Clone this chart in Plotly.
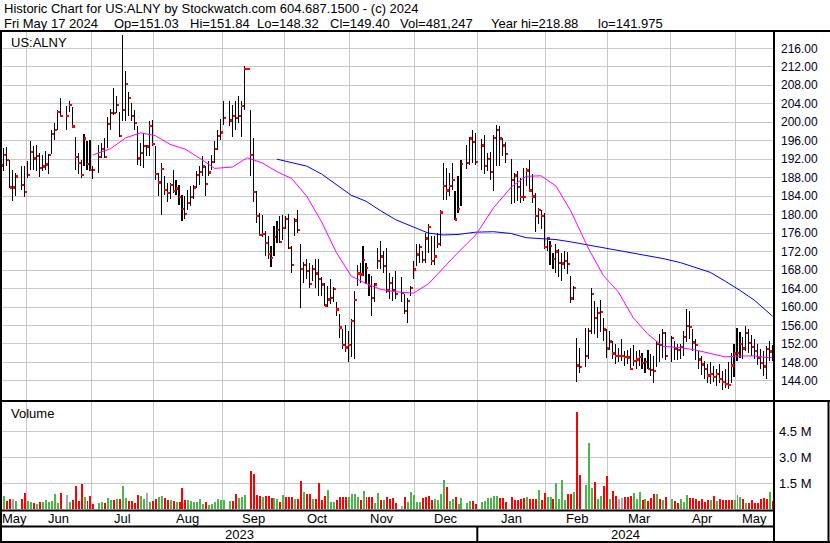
import numpy as np
import pandas as pd
import plotly.graph_objects as go

FONT = "Liberation Sans, Arial, Helvetica, sans-serif"

# ---------------- DATA ----------------
market_holidays = ["2023-05-29", "2023-06-19", "2023-07-04", "2023-09-04", "2023-11-23",
                   "2023-12-25", "2024-01-01", "2024-01-15", "2024-02-19", "2024-03-29"]
first_day, last_day = "2023-05-19", "2024-05-17"

high = [
    # May 2023
    193.7, 194.4, 194.6, 191.9, 189.7, 189.0, 190.6, 190.6,
    # Jun
    191.5, 196.0, 194.8, 195.1, 193.3, 192.8, 193.7, 193.2, 198.4, 199.8, 202.7, 205.2,
    203.6, 204.6, 203.4, 196.8, 193.3, 191.9, 197.4, 196.0, 196.2,
    # Jul
    190.5, 195.1, 195.5, 196.6, 201.1, 202.8, 207.4, 205.6, 202.3, 218.88, 211.0, 206.6,
    204.1, 202.7, 199.1, 195.5, 197.7, 195.1, 200.2, 200.4,
    # Aug
    194.8, 189.0, 191.2, 188.3, 186.9, 186.9, 189.7, 187.6, 186.5, 184.3, 184.0, 185.4,
    186.1, 186.5, 189.4, 190.5, 192.6, 190.5, 191.5, 192.8, 195.9, 198.4, 200.7,
    # Sep
    204.6, 204.6, 203.8, 204.6, 205.7, 204.7, 212.2, 211.8, 202.7, 196.6, 185.1, 180.4,
    180.0, 176.4, 175.4, 173.2, 177.5, 178.6, 179.7, 180.0,
    # Oct
    179.7, 180.2, 173.2, 179.3, 181.1, 173.6, 169.7, 170.3, 169.6, 169.2, 170.3, 170.3,
    166.4, 165.3, 164.6, 166.0, 164.3, 161.0, 158.4, 155.2, 156.1, 154.8,
    # Nov
    157.3, 163.5, 169.2, 169.6, 173.2, 169.6, 167.1, 166.7, 165.3, 172.8, 174.3, 172.1,
    172.8, 167.4, 166.4, 167.8, 166.4, 162.8, 162.0, 164.6, 170.0,
    # Dec
    173.6, 173.6, 172.1, 176.1, 177.9, 175.4, 175.4, 176.1, 181.1, 191.2, 190.1, 189.0,
    191.2, 185.1, 188.3, 191.9, 195.0, 196.8, 198.3, 197.6,
    # Jan 2024
    196.3, 197.3, 193.4, 193.5, 197.3, 199.5, 199.1, 196.6, 195.7, 192.1, 189.0, 189.4,
    188.0, 190.1, 190.1, 191.9, 188.7, 184.7, 181.5, 181.1, 180.4,
    # Feb
    175.0, 174.3, 171.8, 173.6, 172.5, 171.8, 172.1, 171.9, 166.7, 164.6, 153.4, 151.1,
    155.5, 155.5, 164.2, 161.3, 159.9, 161.5, 157.7, 155.2,
    # Mar
    154.8, 152.6, 151.9, 151.2, 153.0, 150.5, 150.8, 151.2, 151.7, 150.5, 150.8, 150.1,
    149.0, 150.8, 149.8, 149.4, 152.6, 154.1, 155.2, 154.5,
    # Apr
    153.7, 152.6, 151.9, 151.9, 154.8, 159.5, 159.2, 155.2, 153.0, 150.5, 149.4, 148.3,
    147.6, 148.0, 147.2, 146.5, 147.6, 146.1, 146.5, 148.0, 150.1, 151.9,
    # May 2024
    155.5, 154.5, 153.5, 155.8, 155.2, 154.0, 153.0, 152.0, 151.0, 150.5, 151.6, 152.6, 151.84,
]

low = [
    189.6, 189.4, 190.6, 185.8, 182.9, 184.0, 185.4, 183.8,
    188.0, 189.7, 189.7, 189.4, 188.1, 189.4, 189.7, 188.7, 193.2, 196.1, 198.4, 201.1,
    198.4, 202.3, 198.9, 189.7, 188.7, 187.9, 190.5, 189.7, 189.4,
    187.7, 189.0, 192.3, 192.3, 194.4, 198.4, 201.6, 202.0, 196.9, 200.2, 200.2, 201.3,
    200.2, 198.4, 190.8, 190.5, 190.1, 192.6, 192.6, 194.8,
    187.6, 184.0, 180.0, 184.3, 182.7, 183.3, 184.7, 184.3, 182.0, 178.6, 179.0, 181.1,
    181.8, 183.3, 185.8, 186.5, 188.3, 184.0, 188.3, 189.7, 191.2, 194.0, 196.2,
    199.5, 199.1, 196.9, 198.4, 199.8, 196.8, 202.7, 211.4, 188.4, 182.7, 178.2, 175.5,
    175.2, 171.0, 170.3, 168.7, 171.0, 173.9, 173.9, 174.6,
    176.8, 172.5, 167.4, 175.4, 176.1, 159.7, 165.3, 166.0, 164.2, 165.6, 164.2, 162.4,
    162.4, 160.2, 159.9, 160.6, 161.0, 158.1, 153.4, 150.9, 150.2, 148.2,
    149.1, 148.7, 164.6, 165.3, 166.7, 165.0, 162.4, 158.0, 161.0, 168.2, 168.2, 167.4,
    163.1, 161.7, 161.3, 161.7, 161.0, 158.4, 156.6, 162.4, 166.0,
    168.9, 169.6, 169.6, 169.6, 171.8, 169.2, 169.2, 172.8, 173.2, 183.1, 183.1, 184.0,
    185.4, 178.8, 180.4, 181.8, 189.8, 190.8, 191.2, 190.8,
    189.6, 188.7, 189.4, 187.6, 185.1, 190.5, 190.5, 192.7, 191.2, 182.2, 182.6, 182.9,
    182.6, 182.9, 186.2, 185.1, 182.6, 176.2, 177.9, 176.8, 172.5,
    172.1, 169.2, 168.2, 167.4, 166.4, 165.6, 168.2, 167.1, 160.9, 161.5, 143.7, 145.8,
    147.0, 148.8, 154.1, 154.1, 153.4, 154.5, 152.6, 149.0,
    150.8, 148.7, 147.6, 148.0, 148.3, 147.2, 147.6, 146.5, 147.2, 146.5, 147.2, 146.5,
    145.8, 146.5, 145.1, 143.6, 147.0, 148.0, 149.0, 148.5,
    148.0, 148.5, 148.5, 148.8, 149.5, 152.5, 153.0, 150.5, 148.5, 146.5, 145.3, 144.5,
    143.5, 143.3, 143.8, 143.0, 143.5, 141.975, 142.5, 142.3, 143.5, 144.8,
    148.3, 149.0, 148.8, 150.5, 150.0, 149.5, 148.8, 147.5, 146.6, 145.0, 144.5, 148.3, 148.32,
]

close = [
    190.7, 193.0, 191.8, 185.9, 185.9, 188.3, 186.4, 185.0,
    188.7, 193.6, 192.2, 192.8, 190.2, 190.5, 190.9, 193.0, 197.5, 198.4, 202.3, 201.4,
    201.4, 203.8, 199.1, 192.6, 191.3, 188.7, 196.5, 191.0, 189.7,
    189.7, 192.6, 194.3, 192.6, 199.7, 202.1, 202.0, 203.8, 197.1, 202.7, 208.3, 205.3,
    201.4, 199.9, 192.2, 193.4, 194.9, 194.8, 199.2, 195.4,
    188.9, 187.0, 190.0, 185.4, 184.7, 186.4, 185.1, 185.7, 183.8, 181.3, 180.2, 182.5,
    183.8, 185.9, 188.7, 189.3, 190.5, 186.7, 189.2, 191.5, 194.3, 197.1, 197.8,
    201.0, 200.4, 201.4, 201.0, 201.4, 203.6, 211.5, 211.6, 193.0, 185.0, 179.7, 175.6,
    175.8, 173.9, 171.6, 170.7, 175.2, 176.8, 174.1, 177.1,
    179.1, 172.9, 169.1, 178.8, 176.8, 168.3, 169.1, 167.8, 165.1, 168.3, 167.3, 166.1,
    164.9, 160.4, 161.7, 162.0, 164.0, 159.5, 155.6, 151.9, 151.3, 151.9,
    157.0, 161.5, 167.3, 167.1, 170.2, 168.5, 164.6, 162.0, 164.9, 170.0, 171.0, 168.9,
    163.6, 165.3, 163.8, 162.9, 163.1, 159.2, 161.3, 164.1, 168.2,
    171.4, 173.0, 170.3, 174.9, 177.3, 170.0, 171.0, 173.7, 180.5, 186.3, 185.3, 186.2,
    187.5, 179.0, 181.3, 191.0, 191.2, 196.5, 195.7, 191.4,
    195.0, 190.6, 192.1, 189.3, 196.7, 198.3, 196.5, 195.0, 193.2, 187.5, 188.5, 186.0,
    183.9, 183.9, 189.6, 185.3, 184.0, 179.7, 181.1, 179.8, 173.0,
    174.9, 173.2, 170.5, 172.1, 169.6, 169.5, 170.0, 169.4, 161.9, 164.1, 147.4, 147.0,
    149.5, 154.8, 162.9, 157.6, 158.8, 158.9, 155.2, 151.1,
    152.6, 150.0, 149.5, 149.5, 149.5, 149.3, 149.1, 146.6, 148.4, 148.7, 149.2, 147.9,
    148.1, 146.6, 146.4, 146.2, 152.1, 151.9, 154.5, 149.4,
    153.3, 151.1, 150.8, 151.4, 153.5, 156.0, 155.8, 152.4, 151.9, 148.7, 147.6, 146.7,
    145.2, 145.6, 144.9, 145.5, 144.4, 143.8, 143.4, 143.2, 147.4, 150.0,
    150.1, 152.1, 151.1, 154.5, 152.2, 151.4, 150.6, 149.0, 147.9, 147.2, 150.9, 150.4, 149.40,
]

volume = [
    350000, 778000, 506000, 603000, 603000, 506000, 603000, 934000,
    486000, 428000, 350000, 311000, 428000, 428000, 545000, 428000, 506000, 895000, 370000, 934000,
    817000, 428000, 545000, 1360000, 486000, 1480000, 720000, 506000, 778000,
    311000, 370000, 428000, 370000, 642000, 564000, 545000, 603000, 603000, 1360000, 661000, 486000,
    486000, 370000, 837000, 778000, 603000, 953000, 428000, 506000,
    603000, 700000, 759000, 661000, 545000, 545000, 486000, 428000, 428000, 1250000, 545000, 545000,
    486000, 428000, 428000, 603000, 311000, 428000, 253000, 311000, 428000, 603000, 545000,
    545000, 486000, 486000, 895000, 661000, 720000, 837000, 0, 2240000, 2060000, 837000, 778000,
    720000, 778000, 778000, 661000, 661000, 603000, 428000, 837000,
    720000, 720000, 720000, 603000, 603000, 1650000, 1010000, 895000, 895000, 603000, 603000, 1540000,
    545000, 778000, 1130000, 428000, 428000, 545000, 720000, 720000, 720000, 720000,
    895000, 895000, 720000, 545000, 1070000, 720000, 720000, 720000, 370000, 953000, 545000, 545000,
    720000, 603000, 661000, 370000, 195000, 720000, 428000, 1010000, 837000,
    428000, 428000, 661000, 700000, 778000, 545000, 603000, 545000, 895000, 1710000, 1280000, 486000,
    603000, 720000, 311000, 661000, 370000, 486000, 486000, 311000,
    428000, 486000, 661000, 661000, 778000, 778000, 661000, 661000, 428000, 720000, 545000, 545000,
    603000, 661000, 720000, 603000, 603000, 603000, 1130000, 545000, 953000,
    720000, 720000, 603000, 1540000, 600000, 1710000, 545000, 895000, 895000, 1010000, 5680000, 2000000,
    1420000, 3870000, 1250000, 1600000, 603000, 778000, 1360000, 1950000,
    603000, 1070000, 778000, 603000, 661000, 720000, 720000, 778000, 953000, 603000, 1010000, 545000,
    603000, 486000, 661000, 895000, 895000, 603000, 545000, 700000,
    603000, 486000, 370000, 603000, 428000, 837000, 661000, 661000, 603000, 486000, 603000, 428000,
    545000, 545000, 778000, 486000, 603000, 545000, 545000, 545000, 545000, 545000,
    837000, 720000, 603000, 370000, 370000, 545000, 370000, 370000, 603000, 661000, 603000, 1010000, 481247,
]

# volume bar colour class, month by month: u = up, d = down, n = unchanged
vol_dir_by_month = [
    "nuddnudd",                      # May 2023
    "uududuuuuuud" "nuddddudd",      # Jun
    "duuduududuudddduunud",          # Jul
    "duuddududdduuuuuuduuuuu",       # Aug
    "uudduuuddddduddduudu",          # Sep
    "dddudd" "udd" "udddd" "uuu" "dddd" "u",   # Oct
    "uuud" "uddd" "uudu" "dddd" "nduuu",       # Nov
    "uudddd" "uuuu" "duu" "duu" "uudd",        # Dec
    "uuuuuu" "ddd" "ddddd" "u" "ddd" "u" "dd", # Jan 2024
    "uud" "uuuu" "ddu" "dd" "uuu" "duu" "dd",  # Feb
    "udd" "nn" "ddd" "uuu" "du" "ddd" "udud",  # Mar
    "udd" "uuu" "ddddddd" "udu" "ddddd" "u",   # Apr
    "uud" "u" "ddddddd" "ud",                  # May 2024
]
vol_dir = "".join(vol_dir_by_month)

# moving averages at every 5th bar (and the last bar)
ma_fast_bars = list(range(29, 250, 5)) + [250]
ma_fast = [192.9, 194.3, 196.6, 197.7, 197.1, 195.2, 194.2, 192.2, 190.0, 190.3, 192.3,
           191.2, 189.3, 187.8, 184.0, 178.5, 171.8, 166.7, 165.1, 163.8, 163.3, 163.0,
           165.0, 168.5, 171.8, 175.6, 181.5, 186.0, 188.3, 188.4, 186.2, 180.8, 172.6,
           166.8, 163.3, 157.7, 154.1, 151.5, 151.2, 150.7, 150.0, 149.2, 149.4, 149.4,
           149.0, 149.2]
ma_slow_bars = list(range(89, 250, 5)) + [250]
ma_slow = [192.0, 191.3, 190.5, 188.8, 186.4, 184.2, 182.9, 180.8, 178.9, 177.3, 176.0,
           175.6, 175.7, 176.2, 176.3, 175.9, 175.0, 174.8, 174.6, 174.1, 173.4, 172.8,
           172.1, 171.6, 171.0, 170.5, 169.6, 168.6, 167.5, 165.6, 163.6, 161.4, 158.6,
           158.0]

month_names = ["May", "Jun", "Jul", "Aug", "Sep", "Oct", "Nov", "Dec",
               "Jan", "Feb", "Mar", "Apr", "May"]
year_names = ["2023", "2024"]
price_ticks = list(range(144, 217, 4))
volume_ticks = [1.5e6, 3.0e6, 4.5e6]
volume_tick_text = ["1.5 M", "3.0 M", "4.5 M"]

header_1 = "Historic Chart for US:ALNY by Stockwatch.com 604.687.1500 - (c) 2024"
header_2 = ["Fri May 17 2024", "Op=151.03", "Hi=151.84", "Lo=148.32", "Cl=149.40",
            "Vol=481,247", "Year hi=218.88", "lo=141.975"]

# ---------------- GEOMETRY ----------------
W, H = 830, 543
PL, PR, PT, PB = 2, 773, 32, 510


def fx(X):
    return (X - PL) / (PR - PL)


def fy(Y):
    return (PB - Y) / (PB - PT)


origin = np.datetime64("2023-05-17")
dates = pd.bdate_range(first_day, last_day, freq="C", holidays=market_holidays)
d64 = dates.values.astype("datetime64[D]")
slot = np.busday_count(origin, d64).astype(float)  # weekday slot; holidays keep an empty slot
n = len(slot)
assert len(high) == n and len(low) == n and len(close) == n and len(volume) == n
assert len(vol_dir) == n, len(vol_dir)

month_starts = pd.date_range("2023-06-01", "2024-05-01", freq="MS").values.astype("datetime64[D]")
first_wd = np.busday_offset(month_starts, 0, roll="forward")
bounds = np.busday_count(origin, first_wd) - 0.5

x_left, x_right = 2.36, 262.13
PRICE_RANGE = [139.87, 219.53]
VOL_RANGE = [-40700, 6238000]
xu = (x_right - x_left) / (PR - PL)                      # x units per pixel
pu = (PRICE_RANGE[1] - PRICE_RANGE[0]) / (400 - PT)       # price units per pixel

edges = [x_left] + list(bounds) + [x_right]
month_centers = [(edges[i] + edges[i + 1]) / 2 for i in range(len(edges) - 1)]
jan_bound = bounds[7]
year_centers = [(x_left + jan_bound) / 2, (jan_bound + x_right) / 2]

hi = np.array(high)
lo = np.array(low)
cl = np.array(close)

# ---------------- TRACES ----------------
fig = go.Figure()
# high-low stems (narrow bars are snapped to whole pixels by plotly -> crisp 1px)
fig.add_trace(go.Bar(x=slot, y=hi - lo, base=lo, width=0.1 * xu,
                     marker=dict(color="black", line=dict(width=0)),
                     hoverinfo="skip", xaxis="x", yaxis="y"))
# close ticks, right of the stem
fig.add_trace(go.Bar(x=slot + 1.55 * xu, y=np.full(n, 1.8 * pu), base=cl - 0.9 * pu,
                     width=1.8 * xu, marker=dict(color="#ff0000", line=dict(width=0)),
                     hoverinfo="skip", xaxis="x", yaxis="y"))
fig.add_trace(go.Scatter(x=slot[ma_slow_bars], y=ma_slow, mode="lines",
                         line=dict(color="#0000ff", width=1), xaxis="x", yaxis="y"))
fig.add_trace(go.Scatter(x=slot[ma_fast_bars], y=ma_fast, mode="lines",
                         line=dict(color="#ff00ff", width=1), xaxis="x", yaxis="y"))

dir_color = {"u": "#4cb648", "d": "#ff0000", "n": "#a8a8a8"}
fig.add_trace(go.Bar(x=slot + 0.5 * xu, y=volume, width=1.0 * xu,
                     marker=dict(color=[dir_color[d] for d in vol_dir], line=dict(width=0)),
                     xaxis="x2", yaxis="y2"))

# ---------------- LAYOUT ----------------
grid = "#c8c8c8"
xcommon = dict(range=[x_left, x_right], tickvals=list(bounds), showticklabels=False,
               showgrid=True, gridcolor=grid, gridwidth=1, zeroline=False, showline=False,
               ticks="", fixedrange=True)

fig.update_layout(
    width=W, height=H, margin=dict(l=PL, r=W - PR, t=PT, b=H - PB),
    paper_bgcolor="white", plot_bgcolor="white", showlegend=False,
    barmode="overlay", bargap=0,
    font=dict(family=FONT, size=13, color="black"),
    xaxis=dict(domain=[0, 1], anchor="y", **xcommon),
    xaxis2=dict(domain=[0, 1], anchor="y2", matches="x", **xcommon),
    yaxis=dict(domain=[fy(400), 1], range=PRICE_RANGE, side="right",
               tickvals=price_ticks, ticktext=["%.2f" % v for v in price_ticks],
               tickfont=dict(family=FONT, size=12, color="#000020"), ticklabelstandoff=7,
               showgrid=True, gridcolor=grid, gridwidth=1, zeroline=False, ticks="",
               showline=False, fixedrange=True),
    yaxis2=dict(domain=[0, fy(402)], range=VOL_RANGE, side="right",
                tickvals=volume_ticks, ticktext=volume_tick_text,
                tickfont=dict(family=FONT, size=13, color="#000020"), ticklabelstandoff=5,
                showgrid=True, gridcolor=grid, gridwidth=1, zeroline=False, ticks="",
                showline=False, fixedrange=True),
)

ann = []


def text(X, Y, s, size=13, xanchor="left", xref="paper"):
    ann.append(dict(x=(fx(X) if xref == "paper" else X), y=fy(Y), xref=xref, yref="paper",
                    text=s, showarrow=False, xanchor=xanchor, yanchor="middle",
                    font=dict(family=FONT, size=size, color="black")))


text(2, 8.5, header_1)
for X, s in zip([1.5, 111.5, 187.5, 255, 328, 398, 489, 596], header_2):
    text(X, 24, s)
text(8.5, 42, "US:ALNY")
text(8.5, 413, "Volume")
for c, s in zip(month_centers, month_names):
    text(c, 518, s, xanchor="center", xref="x")
for c, s in zip(year_centers, year_names):
    text(c, 534.5, s, xanchor="center", xref="x")
fig.update_layout(annotations=ann)

shapes = []


def line(X0, Y0, X1, Y1, w=2):
    shapes.append(dict(type="line", xref="paper", yref="paper", x0=fx(X0), y0=fy(Y0),
                       x1=fx(X1), y1=fy(Y1), line=dict(color="black", width=w)))


line(0, 31, 830, 31)
line(1, 31, 1, 543)
line(0, 401, 830, 401)
line(0, 510.5, 773, 510.5)
line(0, 526.5, 773, 526.5)
line(0, 542, 830, 542)
line(774, 31, 774, 543)
line(828.5, 401, 828.5, 543)
shapes.append(dict(type="line", xref="x", yref="paper", x0=jan_bound, x1=jan_bound,
                   y0=fy(526.5), y1=fy(543), line=dict(color="black", width=2)))
fig.update_layout(shapes=shapes)

fig.write_html("out.html", config={"displayModeBar": False},
               post_script="document.body.style.margin='0';document.body.style.overflow='hidden';")
